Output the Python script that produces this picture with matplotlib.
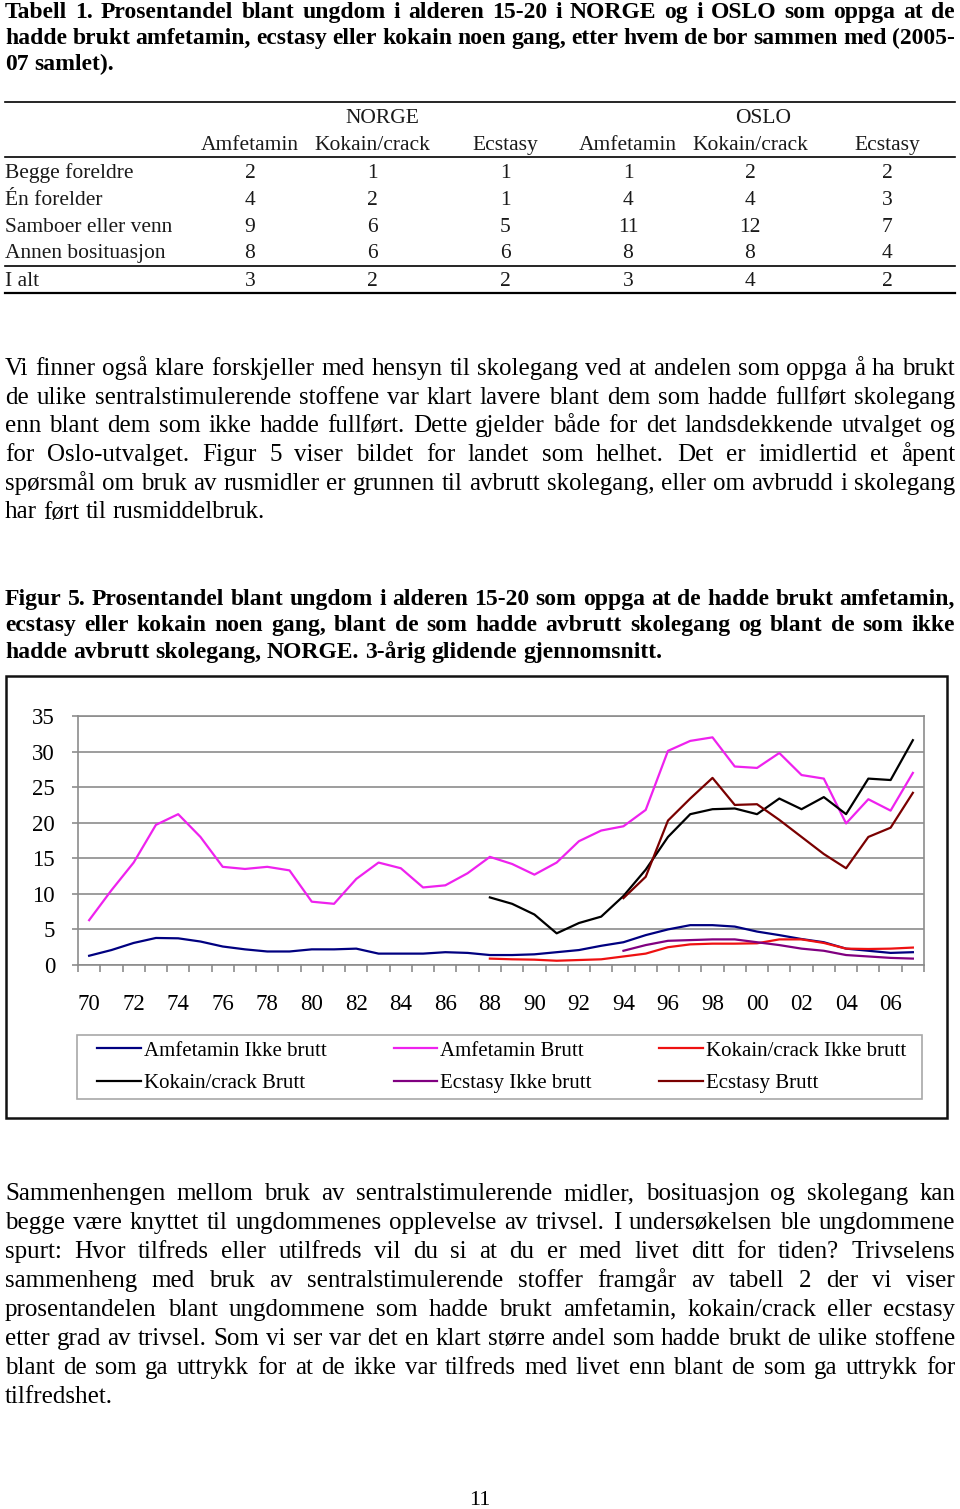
import numpy as np
import matplotlib.pyplot as plt
from matplotlib.lines import Line2D
from matplotlib.patches import Rectangle

# ---- data ----
years = list(range(1970, 2008))
tick_labels = ['70', '72', '74', '76', '78', '80', '82', '84', '86', '88',
               '90', '92', '94', '96', '98', '00', '02', '04', '06']

amf_ikke = [1.3, 2.1, 3.1, 3.8, 3.75, 3.3, 2.6, 2.2, 1.9, 1.9, 2.2, 2.2, 2.3, 1.6, 1.6,
            1.6, 1.8, 1.7, 1.4, 1.4, 1.5, 1.8, 2.1, 2.7, 3.2, 4.2, 5.0, 5.6, 5.6, 5.4,
            4.7, 4.2, 3.65, 3.2, 2.3, 2.0, 1.7, 1.8]
amf_brutt = [6.3, 10.5, 14.4, 19.7, 21.2, 18.0, 13.8, 13.5, 13.8, 13.3, 8.9, 8.6, 12.1,
             14.4, 13.6, 10.9, 11.2, 12.9, 15.2, 14.2, 12.7, 14.4, 17.4, 18.9, 19.5, 21.8,
             30.1, 31.5, 32.0, 27.9, 27.7, 29.8, 26.7, 26.2, 19.9, 23.3, 21.7, 27.0]
kok_start = 1988
kok_ikke = [0.9, 0.8, 0.75, 0.6, 0.7, 0.8, 1.2, 1.6, 2.5, 2.9, 3.0, 3.0, 3.05, 3.6, 3.6,
            3.1, 2.3, 2.25, 2.3, 2.45]
kok_brutt = [9.5, 8.6, 7.1, 4.45, 5.9, 6.8, 9.7, 13.4, 18.0, 21.2, 21.9, 22.0, 21.2, 23.4,
             21.9, 23.6, 21.2, 26.2, 26.0, 31.6]
ecs_start = 1994
ecs_ikke = [2.0, 2.8, 3.4, 3.5, 3.6, 3.6, 3.2, 2.8, 2.3, 2.0, 1.4, 1.2, 1.0, 0.9]
ecs_brutt = [9.4, 12.4, 20.3, 23.4, 26.3, 22.5, 22.6, 20.4, 18.0, 15.6, 13.6, 18.0, 19.3, 24.2]

row_labels = ['Begge foreldre', 'Én forelder', 'Samboer eller venn', 'Annen bosituasjon', 'I alt']
col_labels = ['Amfetamin', 'Kokain/crack', 'Ecstasy', 'Amfetamin', 'Kokain/crack', 'Ecstasy']
norge_amf = [2, 4, 9, 8, 3]
norge_kok = [1, 2, 6, 6, 2]
norge_ecs = [1, 1, 5, 6, 2]
oslo_amf = [1, 4, 11, 8, 3]
oslo_kok = [2, 4, 12, 8, 4]
oslo_ecs = [2, 3, 7, 4, 2]

title1 = ["Tabell 1. Prosentandel blant ungdom i alderen 15-20 i NORGE og i OSLO som oppga at de",
          "hadde brukt amfetamin, ecstasy eller kokain noen gang, etter hvem de bor sammen med (2005-",
          "07 samlet)."]
para1 = ["Vi finner også klare forskjeller med hensyn til skolegang ved at andelen som oppga å ha brukt",
         "de ulike sentralstimulerende stoffene var klart lavere blant dem som hadde fullført skolegang",
         "enn blant dem som ikke hadde fullført. Dette gjelder både for det landsdekkende utvalget og",
         "for Oslo-utvalget. Figur 5 viser bildet for landet som helhet. Det er imidlertid et åpent",
         "spørsmål om bruk av rusmidler er grunnen til avbrutt skolegang, eller om avbrudd i skolegang",
         "har ført til rusmiddelbruk."]
title2 = ["Figur 5. Prosentandel blant ungdom i alderen 15-20 som oppga at de hadde brukt amfetamin,",
          "ecstasy eller kokain noen gang, blant de som hadde avbrutt skolegang og blant de som ikke",
          "hadde avbrutt skolegang, NORGE. 3-årig glidende gjennomsnitt."]
para2 = ["Sammenhengen mellom bruk av sentralstimulerende midler, bosituasjon og skolegang kan",
         "begge være knyttet til ungdommenes opplevelse av trivsel. I undersøkelsen ble ungdommene",
         "spurt: Hvor tilfreds eller utilfreds vil du si at du er med livet ditt for tiden? Trivselens",
         "sammenheng med bruk av sentralstimulerende stoffer framgår av tabell 2 der vi viser",
         "prosentandelen blant ungdommene som hadde brukt amfetamin, kokain/crack eller ecstasy",
         "etter grad av trivsel. Som vi ser var det en klart større andel som hadde brukt de ulike stoffene",
         "blant de som ga uttrykk for at de ikke var tilfreds med livet enn blant de som ga uttrykk for",
         "tilfredshet."]

# ---- page ----
W, H = 960, 1509
plt.rcParams['font.family'] = ['Liberation Serif', 'DejaVu Serif']
fig = plt.figure(figsize=(9.6, 15.09), dpi=100)
renderer = fig.canvas.get_renderer()


def fx(x):
    return x / W


def fy(y):
    return 1 - y / H


def put_line(line, base, size, weight='normal', justify=True, x0=5, x1=955):
    words = line.split()
    txts = [fig.text(0, fy(base), w, fontsize=size, weight=weight, va='baseline')
            for w in words]
    widths = [t.get_window_extent(renderer).width for t in txts]
    if justify and len(words) > 1:
        gap = (x1 - x0 - sum(widths)) / (len(words) - 1)
    else:
        gap = 0.25 * size * 100 / 72
    x = x0
    for t, w in zip(txts, widths):
        t.set_x(fx(x))
        x += w + gap


def paragraph(lines, base, step, size, weight='normal'):
    for i, line in enumerate(lines):
        put_line(line, base + i * step, size, weight, justify=(i < len(lines) - 1))


def hrule(y, lw=1.2):
    fig.add_artist(Line2D([fx(5), fx(955)], [fy(y), fy(y)], color='black', lw=lw))


paragraph(title1, 18, 26, 17, 'bold')

# table
tsize = 15.5
tcol = '#1a1a1a'
hrule(102)
hrule(157)
hrule(266)
hrule(293, 1.6)
fig.text(fx(382), fy(123), 'NORGE', fontsize=tsize, ha='center', va='baseline', color=tcol)
fig.text(fx(763), fy(123), 'OSLO', fontsize=tsize, ha='center', va='baseline', color=tcol)
col_x = [250, 372, 505, 628, 750, 887]
for cx, lab in zip(col_x, col_labels):
    fig.text(fx(cx), fy(150), lab, fontsize=tsize, ha='center', va='baseline', color=tcol)
row_base = [178, 205, 232, 258, 286]
cols = [norge_amf, norge_kok, norge_ecs, oslo_amf, oslo_kok, oslo_ecs]
for i, lab in enumerate(row_labels):
    fig.text(fx(5), fy(row_base[i]), lab, fontsize=tsize, va='baseline', color=tcol)
    for cx, col in zip(col_x, cols):
        fig.text(fx(cx), fy(row_base[i]), str(col[i]), fontsize=tsize, ha='center',
                 va='baseline', color=tcol)

paragraph(para1, 375, 28.7, 18)
paragraph(title2, 605, 26.5, 17, 'bold')

# chart frame
fig.add_artist(Rectangle((fx(6), fy(1118)), fx(947) - fx(6), (1118 - 676) / H,
                         transform=fig.transFigure, fill=False, ec='#111111', lw=1.8))

ax = fig.add_axes([fx(78), fy(965), fx(924) - fx(78), (965 - 716) / H])
idx = np.array(years) - 1970
kidx = np.arange(len(kok_ikke)) + (kok_start - 1970)
eidx = np.arange(len(ecs_ikke)) + (ecs_start - 1970)

lw = 1.6
l1, = ax.plot(idx, amf_ikke, color='#000080', lw=lw, label='Amfetamin Ikke brutt')
l2, = ax.plot(idx, amf_brutt, color='#ee22ee', lw=lw, label='Amfetamin Brutt')
l3, = ax.plot(kidx, kok_ikke, color='#ee1111', lw=lw, label='Kokain/crack Ikke brutt')
l4, = ax.plot(kidx, kok_brutt, color='black', lw=lw, label='Kokain/crack Brutt')
l5, = ax.plot(eidx, ecs_ikke, color='#800080', lw=lw, label='Ecstasy Ikke brutt')
l6, = ax.plot(eidx, ecs_brutt, color='#7a0000', lw=lw, label='Ecstasy Brutt')

ax.set_xlim(-0.5, 37.5)
ax.set_ylim(0, 35)
ax.set_yticks(range(0, 36, 5))
ax.yaxis.grid(True, color='#8c8c8c', lw=1.2)
ax.set_axisbelow(True)
ax.set_xticks(np.arange(0, 37, 2))
ax.set_xticklabels(tick_labels)
ax.set_xticks(np.arange(-0.5, 38, 1), minor=True)
ax.tick_params(axis='x', which='major', length=0, pad=21, labelsize=16.5)
ax.tick_params(axis='x', which='minor', length=5, color='#8c8c8c', width=1.2)
ax.tick_params(axis='y', length=4.5, color='#8c8c8c', width=1.2, pad=12, labelsize=16.5)
for s in ax.spines.values():
    s.set_color('#8c8c8c')
    s.set_linewidth(1.2)

# legend
fig.add_artist(Rectangle((fx(77), fy(1099)), fx(922) - fx(77), (1099 - 1035) / H,
                         transform=fig.transFigure, fill=False, ec='#a8a8a8', lw=1.2))
handles = [l1, l4, l2, l5, l3, l6]
ax.legend(handles=handles, labels=[h.get_label() for h in handles], ncol=3,
          loc='center', mode='expand', frameon=False, fontsize=15,
          bbox_to_anchor=(fx(97), fy(1099), fx(906) - fx(97), (1099 - 1035) / H),
          bbox_transform=fig.transFigure, borderaxespad=0, borderpad=0,
          handlelength=2.1, handletextpad=0.15, labelspacing=0.6)

paragraph(para2, 1200, 29, 18)
fig.text(fx(480), fy(1505), '11', fontsize=16, ha='center', va='baseline')

fig.savefig('out.png', dpi=100)
